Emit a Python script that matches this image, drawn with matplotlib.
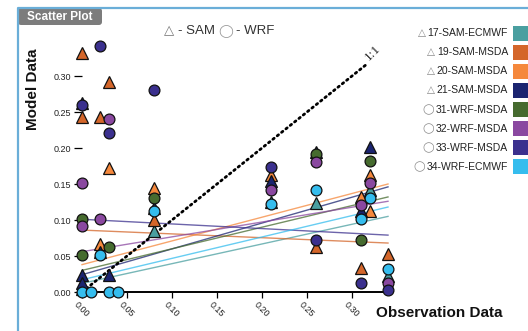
import matplotlib
matplotlib.use('Agg')
import matplotlib.pyplot as plt
from matplotlib.patches import FancyBboxPatch, Rectangle
from matplotlib.lines import Line2D
from matplotlib.transforms import IdentityTransform

plt.rcParams['font.family'] = ['Liberation Sans', 'DejaVu Sans']

W, H = 528, 331

names = ['17-SAM-ECMWF', '19-SAM-MSDA', '20-SAM-MSDA', '21-SAM-MSDA',
         '31-WRF-MSDA', '32-WRF-MSDA', '33-WRF-MSDA', '34-WRF-ECMWF']
colors = ['#4a9fa0', '#d4662a', '#f5883c', '#1b2470',
          '#466b2f', '#8a48a0', '#3b308e', '#35bdee']
markers = ['^', '^', '^', '^', 'o', 'o', 'o', 'o']

# observation / model pairs for each run
obs_17 = [0.00, 0.08, 0.21, 0.26, 0.32, 0.34]
mod_17 = [0.004, 0.085, 0.125, 0.123, 0.142, 0.022]
obs_19 = [0.00, 0.03, 0.00, 0.02, 0.08, 0.26, 0.31, 0.34]
mod_19 = [0.332, 0.292, 0.243, 0.243, 0.100, 0.063, 0.033, 0.053]
obs_20 = [0.03, 0.02, 0.08, 0.21, 0.31, 0.32, 0.32]
mod_20 = [0.172, 0.066, 0.144, 0.163, 0.132, 0.162, 0.113]
obs_21 = [0.00, 0.00, 0.00, 0.03, 0.02, 0.08, 0.21, 0.26, 0.31, 0.32]
mod_21 = [0.262, 0.024, 0.012, 0.024, 0.056, 0.116, 0.154, 0.195, 0.112, 0.202]
obs_31 = [0.00, 0.00, 0.03, 0.08, 0.26, 0.31, 0.32]
mod_31 = [0.102, 0.051, 0.062, 0.131, 0.191, 0.072, 0.182]
obs_32 = [0.00, 0.00, 0.02, 0.03, 0.21, 0.26, 0.31, 0.32, 0.34]
mod_32 = [0.151, 0.092, 0.102, 0.240, 0.142, 0.181, 0.121, 0.152, 0.013]
obs_33 = [0.02, 0.00, 0.03, 0.08, 0.21, 0.26, 0.31, 0.34]
mod_33 = [0.341, 0.260, 0.221, 0.280, 0.173, 0.072, 0.012, 0.003]
obs_34 = [0.00, 0.01, 0.03, 0.04, 0.02, 0.08, 0.21, 0.26, 0.31, 0.32, 0.34]
mod_34 = [0.000, 0.000, 0.000, 0.000, 0.051, 0.112, 0.122, 0.142, 0.102, 0.131, 0.032]

obs = [obs_17, obs_19, obs_20, obs_21, obs_31, obs_32, obs_33, obs_34]
mod = [mod_17, mod_19, mod_20, mod_21, mod_31, mod_32, mod_33, mod_34]

# linear fit of each run, model value at the two ends of the fit range
fit_x = [0.0, 0.34]
fit_start = [0.012, 0.086, 0.038, 0.024, 0.030, 0.056, 0.101, 0.017]
fit_end = [0.105, 0.068, 0.150, 0.146, 0.132, 0.126, 0.079, 0.118]

one_to_one = [0.0, 0.315]
ticks = [0.00, 0.05, 0.10, 0.15, 0.20, 0.25, 0.30]

fig = plt.figure(figsize=(W / 100, H / 100), dpi=100)
ax = fig.add_axes([82 / W, 1 - 292 / H, 310.5 / W, 248.4 / H])
ax.set_xlim(0, 0.345)
ax.set_ylim(0, 0.345)

for i in range(len(names)):
    ax.plot(fit_x, [fit_start[i], fit_end[i]], color=colors[i], lw=1.0,
            alpha=0.75, zorder=1, clip_on=False)

ax.plot(one_to_one, one_to_one, color='black', lw=2.0,
        linestyle=(0, (0.6, 1.4)), dash_capstyle='round', zorder=2)
ax.text(0.323, 0.332, '1:1', rotation=45, ha='center', va='center',
        fontsize=9.5, family='Liberation Serif', color='#222222')

for i in range(len(names)):
    ms = 8.8 if markers[i] == '^' else 7.8
    ax.plot(obs[i], mod[i], linestyle='none', marker=markers[i], ms=ms,
            mfc=colors[i], mec='#111111', mew=0.9, zorder=3, clip_on=False)

for s in ['top', 'right', 'left']:
    ax.spines[s].set_visible(False)
ax.spines['bottom'].set_linewidth(1.4)
ax.set_xticks(ticks)
ax.set_yticks(ticks)
ax.set_xticklabels(['%.2f' % t for t in ticks], rotation=-45, ha='center',
                   va='top')
ax.set_yticklabels(['%.2f' % t for t in ticks])
ax.tick_params(axis='both', labelsize=6.5, labelcolor='#222222',
               color='black', width=0.9)
ax.tick_params(axis='y', length=6, pad=2)
ax.tick_params(axis='x', length=4, pad=2)
ax.patch.set_visible(False)

fig.text(33 / W, 1 - 89 / H, 'Model Data', rotation=90, ha='center',
         va='center', fontsize=11, fontweight='bold', color='#111111')
fig.text(439 / W, 1 - 313 / H, 'Observation Data', ha='center',
         va='center', fontsize=11, fontweight='bold', color='#111111')

# panel border and title tab
fig.add_artist(Line2D([18, 18, W], [0, H - 8, H - 8], color='#6aaed8',
                      lw=1.6, transform=IdentityTransform()))
fig.add_artist(FancyBboxPatch((18, H - 25), 84, 17,
                              boxstyle='round,pad=0,rounding_size=3',
                              fc='#7c7c7c', ec='none',
                              transform=IdentityTransform()))
fig.text(60 / W, 1 - 16.5 / H, 'Scatter Plot', ha='center', va='center',
         fontsize=8.5, fontweight='bold', color='white')

renderer = fig.canvas.get_renderer()

# shape key at the top
x = 164
for s, c, gap in [('△', '#777777', 4), ('- SAM', '#333333', 3),
                  ('◯', '#999999', 3), ('- WRF', '#333333', 0)]:
    t = fig.text(x / W, 1 - 31 / H, s, ha='left', va='center',
                 fontsize=9.5, color=c)
    x = t.get_window_extent(renderer).x1 + gap

# run legend on the right
for i, name in enumerate(names):
    y = 33.3 + i * 19.05
    t = fig.text(508 / W, 1 - y / H, name, ha='right', va='center',
                 fontsize=7.5, color='#222222')
    x0 = t.get_window_extent(renderer).x0
    sym = '△' if markers[i] == '^' else '◯'
    fig.text((x0 - 2) / W, 1 - y / H, sym, ha='right', va='center',
             fontsize=7.5, color='#888888')
    fig.add_artist(Rectangle((513, H - y - 7.5), 15, 15, fc=colors[i],
                             ec='none', transform=IdentityTransform()))

fig.savefig('out.png', dpi=100)
